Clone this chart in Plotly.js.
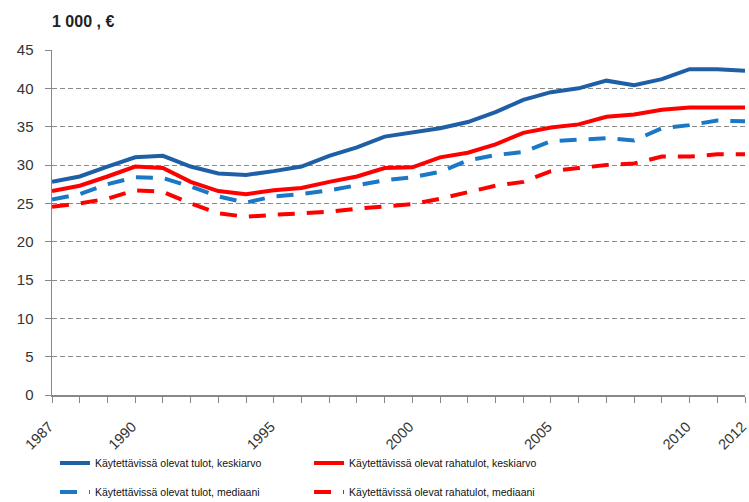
<!DOCTYPE html>
<html><head><meta charset="utf-8">
<script src="https://cdn.plot.ly/plotly-3.0.1.min.js"></script>
<style>body{margin:0;background:#fff}#c{width:749px;height:502px}</style>
</head><body><div id="c"></div>
<script>
const years = [1987,1988,1989,1990,1991,1992,1993,1994,1995,1996,1997,1998,1999,2000,2001,2002,2003,2004,2005,2006,2007,2008,2009,2010,2011,2012];
const meanDisp = [27.8,28.5,29.8,31.0,31.2,29.8,28.9,28.7,29.2,29.8,31.2,32.3,33.7,34.3,34.8,35.6,36.9,38.5,39.5,40.0,41.0,40.4,41.2,42.5,42.5,42.3];
const meanCash = [26.6,27.3,28.5,29.8,29.6,27.8,26.6,26.2,26.7,27.0,27.8,28.5,29.6,29.7,31.0,31.6,32.7,34.2,34.9,35.3,36.3,36.6,37.2,37.5,37.5,37.5];
const medDisp = [25.5,26.2,27.5,28.4,28.3,27.2,25.9,25.1,25.9,26.2,26.7,27.3,28.0,28.4,29.1,30.6,31.3,31.7,33.1,33.3,33.5,33.2,34.8,35.2,35.8,35.7];
const medCash = [24.55,25.0,25.6,26.7,26.5,25.0,23.7,23.25,23.5,23.7,23.9,24.3,24.55,24.9,25.6,26.5,27.3,27.8,29.2,29.6,30.0,30.2,31.1,31.1,31.4,31.4];
const names = ["Käytettävissä olevat tulot, keskiarvo","Käytettävissä olevat rahatulot, keskiarvo","Käytettävissä olevat tulot, mediaani","Käytettävissä olevat rahatulot, mediaani"];
const xTickVals = [1987,1990,1995,2000,2005,2010,2012];
const xTickText = ["1987","1990","1995","2000","2005","2010","2012"];
const yUnit = "1 000 , €";

const tickFont = {family:"Liberation Sans, Arial, sans-serif", size:15, color:"#333"};
const xTickFont = {family:"Liberation Sans, Arial, sans-serif", size:14.5, color:"#333"};
const legFont = {family:"Liberation Sans, Arial, sans-serif", size:10.5, color:"#111"};
const traces = [
  {x:years, y:meanDisp, name:names[0], mode:"lines", line:{color:"#1f5fa6", width:4}, legend:"legend"},
  {x:years, y:meanCash, name:names[1], mode:"lines", line:{color:"#ff0000", width:4}, legend:"legend2"},
  {x:years, y:medDisp, name:names[2], mode:"lines", line:{color:"#1b78c6", width:4, dash:"17px,12px"}, legend:"legend3"},
  {x:years, y:medCash, name:names[3], mode:"lines", line:{color:"#ff0000", width:4, dash:"17px,12px"}, legend:"legend4"}
];
function leg(x, y) {
  return {orientation:"h", xref:"container", x:x, xanchor:"left", yref:"container", y:y, yanchor:"middle",
          font:legFont, bgcolor:"rgba(0,0,0,0)", borderwidth:0};
}
const layout = {
  width:749, height:502,
  margin:{l:52, r:4, t:50, b:107, autoexpand:false},
  paper_bgcolor:"#fff", plot_bgcolor:"#fff",
  showlegend:true,
  legend:leg(0.0734, 0.0777),
  legend2:leg(0.4126, 0.0777),
  legend3:leg(0.0734, 0.0199),
  legend4:leg(0.4126, 0.0199),
  xaxis:{range:[1987,2012], tickmode:"array", tickvals:xTickVals, ticktext:xTickText,
         tickangle:-45, tickfont:xTickFont, ticks:"outside", ticklen:6, tickcolor:"#888",
         showline:true, linecolor:"#888", linewidth:1.5, showgrid:false, zeroline:false, ticklabelstandoff:10,
         ticklabelshift:-3, ticklabeloverflow:"allow",
         minor:{tickmode:"linear", tick0:1987, dtick:1, ticks:"outside", ticklen:6, tickcolor:"#888", showgrid:false}},
  yaxis:{range:[0,45], dtick:5, tick0:0, tickfont:tickFont, ticks:"outside", ticklen:6, tickcolor:"#888",
         showline:true, linecolor:"#888", linewidth:1.5, showgrid:true, gridcolor:"#8a8a8a", griddash:"5px,3px", gridwidth:1,
         zeroline:false, ticklabelstandoff:8},
  annotations:[{text:yUnit, xref:"paper", yref:"paper", x:-0.003, y:1, xanchor:"left", yanchor:"middle", yshift:29,
                showarrow:false, font:{family:"Liberation Sans, Arial, sans-serif", size:16, color:"#222", weight:"bold"}}]
};
Plotly.newPlot("c", traces, layout, {displayModeBar:false, staticPlot:true});
</script></body></html>
